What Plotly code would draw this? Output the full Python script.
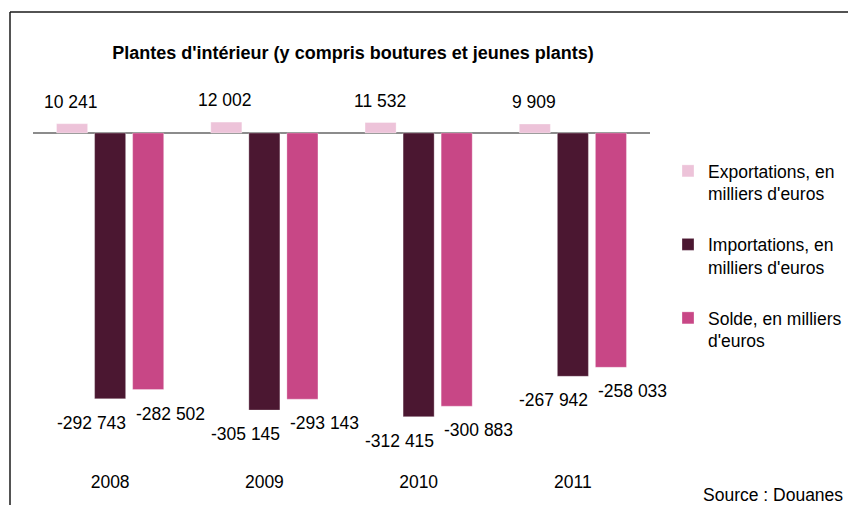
import plotly.graph_objects as go

years = ["2008", "2009", "2010", "2011"]
exportations = [10241, 12002, 11532, 9909]
importations = [-292743, -305145, -312415, -267942]
solde = [-282502, -293143, -300883, -258033]
labels_exp = ["10 241", "12 002", "11 532", "9 909"]
labels_imp = ["-292 743", "-305 145", "-312 415", "-267 942"]
labels_sol = ["-282 502", "-293 143", "-300 883", "-258 033"]
series_names = ["Exportations, en<br>milliers d'euros",
                "Importations, en<br>milliers d'euros",
                "Solde, en milliers<br>d'euros"]
colors = ["#EDC3D9", "#4B1731", "#C84786"]

FONT = "Liberation Sans Narrow, Arial Narrow, Liberation Sans, Arial, sans-serif"
FS = 17.5
W, H = 848, 505
ML, MR, MT, MB = 33, 198, 100, 40
PW = W - ML - MR
PH = H - MT - MB

def px(x):
    return (x - ML) / PW

def py(y):
    return (H - MB - y) / PH

fig = go.Figure()
for name, vals, col in zip(series_names, [exportations, importations, solde], colors):
    fig.add_trace(go.Bar(x=years, y=vals, name=name, legendgroup=name,
                         marker=dict(color=col, line=dict(color="rgba(255,255,255,0.6)", width=0.5))))

annotations = []
lab_font = dict(family=FONT, size=FS, color="#000")
for i, (v, t) in enumerate(zip(exportations, labels_exp)):
    annotations.append(dict(x=i, y=v, xref="x", yref="y", text=t, showarrow=False,
                            xshift=-39, yshift=22, yanchor="middle", font=lab_font))
for i, (v, t) in enumerate(zip(importations, labels_imp)):
    annotations.append(dict(x=i, y=v, xref="x", yref="y", text=t, showarrow=False,
                            xshift=-19, yshift=-24, yanchor="middle", font=lab_font))
for i, (v, t) in enumerate(zip(solde, labels_sol)):
    annotations.append(dict(x=i, y=v, xref="x", yref="y", text=t, showarrow=False,
                            xshift=60, yshift=-24, yanchor="middle", font=lab_font))
annotations.append(dict(x=px(845), y=py(495), xref="paper", yref="paper", text="Source : Douanes",
                        showarrow=False, xanchor="right", yanchor="middle", font=lab_font))

shapes = [
    dict(type="line", xref="paper", yref="paper", x0=px(10), x1=px(10), y0=py(12), y1=py(505),
         line=dict(color="#1a1a1a", width=1.5)),
    dict(type="line", xref="paper", yref="paper", x0=px(10), x1=px(848), y0=py(12), y1=py(12),
         line=dict(color="#1a1a1a", width=1.5)),
]

fig.update_layout(
    width=W, height=H,
    margin=dict(l=ML, r=MR, t=MT, b=MB, autoexpand=False),
    paper_bgcolor="white", plot_bgcolor="white",
    font=dict(family=FONT, size=FS, color="#000"),
    title=dict(text="<b>Plantes d'intérieur (y compris boutures et jeunes plants)</b>",
               xref="paper", x=px(353), xanchor="center", y=1 - 53 / H, yanchor="middle",
               font=dict(family=FONT, size=18, color="#000")),
    barmode="group", bargap=0.26, bargroupgap=0.184,
    xaxis=dict(type="category", range=[-0.5, 3.5], showline=False, showgrid=False, ticks="",
               tickfont=dict(family=FONT, size=FS, color="#000"), ticklabelstandoff=4),
    yaxis=dict(range=[-365639, 36344], showgrid=False, showticklabels=False, showline=False,
               zeroline=True, zerolinecolor="#8C8C8C", zerolinewidth=2),
    legend=dict(x=px(668), y=py(153), xanchor="left", yanchor="top",
                font=dict(family=FONT, size=FS, color="#000"),
                tracegroupgap=25, valign="top", bgcolor="rgba(0,0,0,0)"),
    annotations=annotations,
    shapes=shapes,
    showlegend=True,
)

fig.write_html("out.html", post_script="document.body.style.margin='0';",
               config={"displayModeBar": False})
